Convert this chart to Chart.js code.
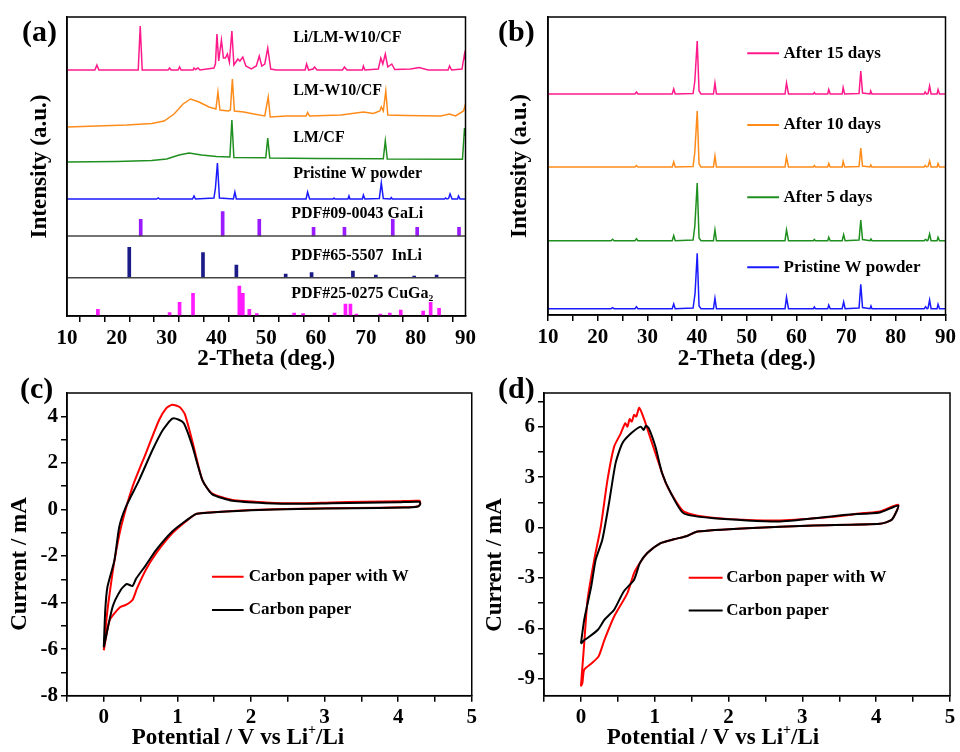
<!doctype html>
<html lang="en">
<head>
<meta charset="utf-8">
<title>XRD and CV</title>
<script src="https://cdn.jsdelivr.net/npm/chart.js@4.4.0/dist/chart.umd.min.js"></script>
<style>
    html, body { margin: 0; padding: 0; background: #fff; overflow: hidden; }
    canvas { position: absolute; }
</style>
</head>
<body>
<canvas id="chartA" width="480" height="376" style="left:0;top:0"></canvas>
<canvas id="chartB" width="480" height="376" style="left:480px;top:0"></canvas>
<canvas id="chartC" width="480" height="380" style="left:0;top:376px"></canvas>
<canvas id="chartD" width="480" height="380" style="left:480px;top:376px"></canvas>
<script>
// ---- tick lists ----
const xrdTicks = [10, 15, 20, 25, 30, 35, 40, 45, 50, 55, 60, 65, 70, 75, 80, 85, 90];
const cvTicksX = [-0.5, 0, 0.5, 1, 1.5, 2, 2.5, 3, 3.5, 4, 4.5, 5];
const cTicksY = [-8, -7, -6, -5, -4, -3, -2, -1, 0, 1, 2, 3, 4];
const dTicksY = [-9, -7.5, -6, -4.5, -3, -1.5, 0, 1.5, 3, 4.5, 6, 7.5];

// ---- (a) XRD patterns [2theta, intensity] ----
const liLmW10CF = [[10,246],[15.6,246],[16.0,251],[16.4,246],[24.3,246],[24.7,290],[25.1,246],[30.3,246],[30.6,248],[30.9,246],[32.3,246],[32.6,249],[32.9,246],[35.3,246],[35.5,248],[35.8,246.5],[36.3,248],[36.7,246],[39.5,248],[39.8,252],[40.1,282],[40.45,255],[41.0,276],[41.4,258],[41.8,258],[42.2,262],[42.6,254],[43.1,285],[43.5,251],[43.9,254],[44.3,257],[44.7,255],[45.3,259],[45.9,250],[47,247],[48.0,250],[48.6,260],[49.1,250],[49.7,252],[50.3,268],[50.9,247],[52,246],[57.8,246],[58.1,252],[58.5,246],[59.4,247],[59.7,249],[60.2,246],[65.3,246],[65.7,249],[66.2,246],[69.3,246],[69.5,250],[69.8,246],[72.5,247],[73.0,258],[73.4,252],[73.9,262],[74.4,249],[75.2,252],[75.8,246.5],[79,247],[80.7,248.5],[82.5,246],[86.5,246],[86.8,250],[87.2,246],[89.3,247],[89.8,262],[90,256]];
const lmW10CF = [[10,189],[16,190],[22,191],[27,192.5],[29.5,195],[31.5,202],[33.3,212],[34.8,217],[36.5,214],[38.5,209],[39.9,207],[40.3,224],[40.7,206],[42.4,205],[42.8,206],[43.2,237],[43.6,205],[45.5,204],[47.5,202],[49.7,200],[50.4,219],[50.8,199],[54,200],[58,200],[58.3,203.5],[58.7,200],[65,201],[69.5,204],[71.5,202.5],[72.8,205],[73.1,209],[73.5,205],[74.0,225],[74.4,201],[78,200.5],[85,200],[86.8,202],[88,200],[89.6,205],[90,212]];
const lmCF = [[10,154],[20,154.5],[27,155.5],[30,157],[32.5,161],[34.5,163],[37,161],[40,159.5],[42.7,159],[43.1,196],[43.5,158.5],[49.9,158.3],[50.3,178],[50.7,158],[60,157.5],[73.5,157.3],[73.9,175],[74.3,157],[89.4,156.7],[89.8,188],[90,180]];
const wPowderA = [[10,117],[28,117],[28.3,118],[28.6,117],[35.2,117],[35.5,120],[35.8,117],[39.5,118],[39.8,128],[40.2,153],[40.6,118],[43.4,117],[43.7,124],[44,117],[58,117],[58.3,124],[58.7,117],[63.4,117],[63.6,118],[63.8,117],[66.4,117],[66.6,120],[66.8,117],[69.3,117],[69.5,121],[69.8,117],[72.7,117.5],[73.1,133],[73.5,117.5],[74.9,117],[75.1,118.5],[75.3,117],[85.8,117],[86.0,118],[86.3,117],[86.6,117.5],[86.9,122],[87.3,117],[88.4,117],[88.6,120],[88.9,117],[90,117]];

// reference sticks: positions, tops and base line
const gaLiPos = [24.8, 41.25, 48.6, 59.5, 65.7, 75.4, 80.3, 88.7];
const gaLiTop = [96.7, 104.3, 96.7, 88.7, 88.7, 96.7, 88.7, 88.7];
const gaLiBase = 80;
const inLiPos = [22.5, 37.3, 44.0, 53.9, 59.1, 67.4, 72.0, 79.7, 84.2];
const inLiTop = [68.7, 63.3, 51, 42, 43.3, 45, 41, 40, 41];
const inLiBase = 38.3;
const cuGa2Pos = [16.2, 30.6, 32.6, 35.3, 44.6, 45.3, 46.6, 48.1, 55.6, 57.4, 63.7, 65.9, 66.9, 68.1, 72.9, 74.8, 77.0, 81.5, 83.0, 84.7];
const cuGa2Top = [6.7, 3.3, 13.7, 22.7, 30, 22.7, 6.7, 2.3, 3, 2.3, 3, 12, 12, 2, 2, 3, 6, 5, 13.7, 7.7];
const cuGa2Base = 0;

// ---- (b) XRD after storage ----
const after15 = [[10,221],[27.5,221],[27.8,223],[28.1,221],[35.0,221],[35.3,226],[35.6,221],[39.2,221.5],[39.55,234],[40.03,274],[40.4,224],[40.8,221],[43.3,221],[43.6,232],[43.9,221],[57.7,221],[58.0,232],[58.4,221],[63.4,221],[63.6,222.5],[63.8,221],[66.3,221],[66.5,225.5],[66.8,221],[69.2,221],[69.4,227.5],[69.7,221],[72.6,221.5],[72.95,244],[73.3,222],[74.8,221],[74.95,224],[75.2,221],[85.7,221],[85.9,223],[86.2,221],[86.5,221.5],[86.8,229],[87.1,221],[88.3,221],[88.5,225.5],[88.8,221],[90,221]];
const after10 = [[10,148],[27.5,148],[27.8,149.5],[28.1,148],[35.0,148],[35.3,153],[35.6,148],[39.2,148.5],[39.55,163],[40.03,204],[40.4,151],[40.8,148],[43.3,148],[43.6,159],[43.9,148],[57.7,148],[58.0,158],[58.4,148],[63.4,148],[63.6,149.5],[63.8,148],[66.3,148],[66.5,151.5],[66.8,148],[69.2,148],[69.4,153.5],[69.7,148],[72.6,148.5],[72.95,167],[73.3,149],[74.8,148],[74.95,150],[75.2,148],[85.7,148],[85.9,149.5],[86.2,148],[86.5,148.5],[86.8,154],[87.1,148],[88.3,148],[88.5,151.5],[88.8,148],[90,148]];
const after5 = [[10,74.3],[22.7,74.3],[23.0,75.7],[23.3,74.3],[27.5,74.3],[27.8,76.3],[28.1,74.3],[35.0,74.3],[35.3,79.3],[35.6,74.3],[39.2,75],[39.55,89],[40.03,132],[40.4,77],[40.8,74.3],[43.3,74.3],[43.6,85],[43.9,74.3],[57.7,74.3],[58.0,85],[58.4,74.3],[63.4,74.3],[63.6,75.5],[63.8,74.3],[66.3,74.3],[66.5,77.7],[66.8,74.3],[69.2,74.3],[69.5,80.3],[69.8,74.3],[72.6,75],[72.95,95],[73.3,75.5],[74.8,74.3],[75.0,76],[75.2,74.3],[85.7,74.3],[86.0,75.5],[86.3,74.3],[86.5,75],[86.8,81],[87.1,74.3],[88.3,74.3],[88.5,77.7],[88.8,74.3],[90,74.3]];
const pristineB = [[10,6.3],[22.7,6.3],[23.0,7.3],[23.3,6.3],[27.5,6.3],[27.8,8.3],[28.1,6.3],[35.0,6.3],[35.3,11],[35.6,6.3],[39.2,7],[39.6,21.7],[40.03,61.7],[40.4,9],[40.8,6.3],[43.3,6.3],[43.6,16.7],[43.9,6.3],[57.7,6.3],[58.0,17.7],[58.4,6.3],[63.4,6.3],[63.6,8],[63.8,6.3],[66.3,6.3],[66.5,10],[66.8,6.3],[69.2,6.3],[69.5,13],[69.8,6.3],[72.6,7],[72.95,30.7],[73.3,7.5],[74.8,6.3],[75.0,9],[75.2,6.3],[85.7,6.3],[86.0,8.3],[86.3,6.3],[86.5,7],[86.8,15],[87.1,6.3],[88.3,6.3],[88.5,10.7],[88.8,6.3],[90,6.3]];

// ---- (c) CV, [V, mA] ----
const cPaperW = [[0,-6.05],[0.04,-4.6],[0.08,-3.6],[0.145,-2.2],[0.235,-0.75],[0.39,0.97],[0.57,2.4],[0.75,3.83],[0.85,4.35],[0.93,4.5],[1.03,4.4],[1.1,4.1],[1.2,2.97],[1.34,1.26],[1.47,0.69],[1.75,0.4],[2.2,0.3],[2.64,0.26],[3.1,0.3],[3.55,0.33],[4.0,0.35],[4.29,0.37],[4.3,0.25],[4.27,0.14],[4.08,0.09],[3.4,0.06],[2.64,0.03],[2.0,-0.03],[1.75,-0.07],[1.38,-0.14],[1.25,-0.2],[1.11,-0.53],[0.93,-1.03],[0.71,-1.89],[0.57,-2.6],[0.45,-3.4],[0.39,-3.89],[0.3,-4.1],[0.22,-4.2],[0.08,-4.75],[0,-6.05]];
const cPaper = [[0,-5.92],[0.02,-4.32],[0.05,-3.32],[0.145,-2.18],[0.21,-0.75],[0.3,0.11],[0.48,1.26],[0.66,2.54],[0.8,3.4],[0.93,3.9],[1.02,3.85],[1.09,3.69],[1.2,2.76],[1.34,1.26],[1.47,0.66],[1.75,0.37],[2.2,0.27],[2.64,0.24],[3.1,0.27],[3.55,0.29],[4.0,0.31],[4.29,0.33],[4.3,0.22],[4.27,0.13],[4.08,0.08],[3.4,0.05],[2.64,0.02],[2.0,-0.04],[1.75,-0.08],[1.38,-0.15],[1.25,-0.2],[1.11,-0.5],[0.93,-0.95],[0.71,-1.75],[0.57,-2.4],[0.44,-2.97],[0.39,-3.29],[0.31,-3.2],[0.23,-3.46],[0.12,-4.18],[0,-5.92]];

// ---- (d) CV, [V, mA] ----
const dPaperW = [[0,-9.45],[0.02,-8.3],[0.045,-6.87],[0.09,-4.3],[0.18,-1.92],[0.27,0.06],[0.36,2.83],[0.45,4.81],[0.54,5.6],[0.6,6.2],[0.63,6.0],[0.66,6.45],[0.69,6.3],[0.72,6.7],[0.75,6.6],[0.79,7.12],[0.86,6.4],[0.95,5.2],[1.04,4.02],[1.15,2.64],[1.26,1.75],[1.39,0.96],[1.58,0.7],[2.03,0.5],[2.7,0.42],[3.38,0.62],[3.83,0.86],[4.05,0.96],[4.3,1.35],[4.21,0.46],[4.05,0.22],[3.15,0.12],[2.25,-0.04],[1.58,-0.24],[1.44,-0.5],[1.26,-0.7],[1.08,-0.93],[0.9,-1.52],[0.8,-2.1],[0.72,-2.71],[0.63,-3.9],[0.45,-5.29],[0.32,-6.67],[0.24,-7.66],[0.15,-8.06],[0.045,-8.45],[0.02,-9.25],[0,-9.45]];
const dPaper = [[0,-6.91],[0.045,-5.48],[0.14,-3.5],[0.2,-1.92],[0.29,-0.73],[0.38,1.44],[0.47,3.83],[0.56,5.0],[0.68,5.6],[0.81,6.0],[0.85,5.8],[0.88,6.05],[0.92,5.9],[1.01,4.8],[1.1,3.23],[1.22,2.04],[1.39,0.85],[1.8,0.55],[2.7,0.36],[3.6,0.76],[4.05,0.9],[4.3,1.3],[4.21,0.46],[4.05,0.22],[3.15,0.12],[2.25,-0.04],[1.58,-0.24],[1.44,-0.5],[1.26,-0.7],[1.08,-0.93],[0.9,-1.52],[0.8,-2.1],[0.72,-3.1],[0.58,-3.8],[0.45,-4.89],[0.32,-5.48],[0.23,-6.08],[0.09,-6.57],[0.05,-6.67],[0,-6.91]];

const serif = '"Liberation Serif", "Times New Roman", serif';
Chart.defaults.font.family = serif;
Chart.defaults.font.weight = 'bold';
Chart.defaults.color = '#000';
Chart.defaults.animation = false;
Chart.defaults.responsive = false;
Chart.defaults.elements.point.radius = 0;
Chart.defaults.plugins.legend.display = false;
Chart.defaults.plugins.tooltip.enabled = false;

let pts = arr => arr.map(p => ({ x: p[0], y: p[1] }));
let line = (arr, color, width) => ({ type: 'line', data: pts(arr), borderColor: color, borderWidth: width || 1.5, tension: 0, fill: false });
let cv = (arr, color) => ({ type: 'line', data: pts(arr), borderColor: color, borderWidth: 2, tension: 0.2, fill: false });
let sticks = (pos, top, base, color) => ({
    type: 'bar', grouped: false, barThickness: 3, backgroundColor: color, borderWidth: 0,
    data: pos.map((p, i) => ({ x: p, y: [base, top[i]] }))
});
let baseLine = (val, color) => line([[10, val], [90, val]], color, 1.5);

// text with a superscript piece, drawn centred on (cx, cy)
let drawParts = (ctx, parts, cx, cy, rot) => {
    ctx.save();
    ctx.translate(cx, cy);
    ctx.rotate(rot || 0);
    ctx.textAlign = 'left';
    ctx.textBaseline = 'middle';
    let fontOf = p => (p.sup ? 'bold 14px ' : 'bold 23px ') + serif;
    let w = 0;
    parts.forEach(p => { ctx.font = fontOf(p); w += ctx.measureText(p.t).width; });
    let cur = -w / 2;
    parts.forEach(p => {
        ctx.font = fontOf(p);
        ctx.fillText(p.t, cur, p.sup ? -8 : 0);
        cur += ctx.measureText(p.t).width;
    });
    ctx.restore();
};

// frame, panel tag, in-plot labels and legend samples
const decor = {
    id: 'decor',
    afterDatasetsDraw(chart, args, opts) {
        const { ctx, chartArea: a, scales: { x, y } } = chart;
        ctx.save();
        ctx.strokeStyle = '#000';
        ctx.lineWidth = 1.5;
        ctx.strokeRect(a.left, a.top, a.right - a.left, a.bottom - a.top);
        ctx.fillStyle = '#000';
        ctx.textBaseline = 'middle';
        ctx.textAlign = 'left';
        (opts.notes || []).forEach(n => {
            let py = y.getPixelForValue(n.y);
            if (n.from !== undefined) {
                ctx.strokeStyle = n.color;
                ctx.lineWidth = 2;
                ctx.beginPath();
                ctx.moveTo(x.getPixelForValue(n.from), py);
                ctx.lineTo(x.getPixelForValue(n.to), py);
                ctx.stroke();
            }
            ctx.font = opts.noteFont;
            ctx.fillText(n.text, x.getPixelForValue(n.x), py);
        });
        ctx.font = 'bold 30px ' + serif;
        ctx.fillText(opts.tag[0], opts.tag[1], opts.tag[2]);
        (opts.titles || []).forEach(t => drawParts(ctx, t.parts, t.x, t.y, t.rot));
        ctx.restore();
    }
};

let tickGrid = { drawOnChartArea: false, tickLength: 6, color: '#000', lineWidth: 1.5 };
let axisBorder = { color: '#000', width: 1.5 };

let xrdX = h => ({
    type: 'linear', min: 10, max: 90, offset: false,
    afterBuildTicks: s => { s.ticks = xrdTicks.map(v => ({ value: v })); },
    afterFit: s => { s.height = h; },
    grid: tickGrid, border: axisBorder,
    ticks: { autoSkip: false, maxRotation: 0, padding: 4, font: { size: 21, weight: 'bold' }, callback: v => v % 10 === 0 ? v : '' },
    title: { display: true, text: '2-Theta (deg.)', font: { size: 23, weight: 'bold' }, padding: { top: 0, bottom: 3 } }
});
let xrdY = (w, max) => ({
    type: 'linear', min: 0, max: max,
    afterFit: s => { s.width = w; },
    grid: { display: false }, border: axisBorder, ticks: { display: false },
    title: { display: true, text: 'Intensity (a.u.)', font: { size: 23, weight: 'bold' }, padding: { top: 26 } }
});
let cvX = () => ({
    type: 'linear', min: -0.5, max: 5, offset: false,
    afterBuildTicks: s => { s.ticks = cvTicksX.map(v => ({ value: v })); },
    afterFit: s => { s.height = 60.3; },
    grid: tickGrid, border: axisBorder,
    ticks: { autoSkip: false, maxRotation: 0, padding: 3, font: { size: 21, weight: 'bold' }, callback: v => Number.isInteger(v) ? v : '' }
});
let cvY = (w, min, max, list, step) => ({
    type: 'linear', min: min, max: max,
    afterBuildTicks: s => { s.ticks = list.map(v => ({ value: v })); },
    afterFit: s => { s.width = w; },
    grid: tickGrid, border: axisBorder,
    ticks: { autoSkip: false, padding: 3, font: { size: 21, weight: 'bold' }, callback: v => v % step === 0 ? v : '' }
});
let potential = [{ t: 'Potential / V vs Li' }, { t: '+', sup: true }, { t: '/Li' }];
let current = [{ t: 'Current / mA' }];

new Chart(document.getElementById('chartA'), {
    type: 'line',
    data: {
        datasets: [
            line(liLmW10CF, '#ff1a8c'),
            line(lmW10CF, '#ff8c1a'),
            line(lmCF, '#1f8f1f'),
            line(wPowderA, '#1a1aff'),
            baseLine(gaLiBase, '#444'),
            baseLine(inLiBase, '#444'),
            sticks(gaLiPos, gaLiTop, gaLiBase, '#9b1bff'),
            sticks(inLiPos, inLiTop, inLiBase, '#1b1b88'),
            sticks(cuGa2Pos, cuGa2Top, cuGa2Base, '#ff1aff')
        ]
    },
    options: {
        layout: { padding: { top: 17, right: 12, left: 0, bottom: 0 } },
        scales: { x: xrdX(60), y: xrdY(67, 299) },
        plugins: {
            decor: {
                tag: ['(a)', 22, 33],
                noteFont: 'bold 16px ' + serif,
                notes: [
                    { text: 'Li/LM-W10/CF', x: 55.4, y: 278 },
                    { text: 'LM-W10/CF', x: 55.4, y: 225 },
                    { text: 'LM/CF', x: 55.4, y: 178.5 },
                    { text: 'Pristine W powder', x: 55.4, y: 142 },
                    { text: 'PDF#09-0043 GaLi', x: 55.0, y: 102 },
                    { text: 'PDF#65-5507  InLi', x: 55.0, y: 60 },
                    { text: 'PDF#25-0275 CuGa\u2082', x: 55.0, y: 22 }
                ]
            }
        }
    },
    plugins: [decor]
});

new Chart(document.getElementById('chartB'), {
    type: 'line',
    data: {
        datasets: [
            line(after15, '#ff1a8c'),
            line(after10, '#ff8c1a'),
            line(after5, '#1f8f1f'),
            line(pristineB, '#1a1aff')
        ]
    },
    options: {
        layout: { padding: { top: 17, right: 13, left: 0, bottom: 0 } },
        scales: { x: xrdX(61), y: xrdY(68, 298) },
        plugins: {
            decor: {
                tag: ['(b)', 18, 33],
                noteFont: 'bold 17px ' + serif,
                notes: [
                    { text: 'After 15 days', x: 57.4, y: 261.7, from: 50.1, to: 56.5, color: '#ff1a8c' },
                    { text: 'After 10 days', x: 57.4, y: 190, from: 50.1, to: 56.5, color: '#ff8c1a' },
                    { text: 'After 5 days', x: 57.4, y: 117.7, from: 50.1, to: 56.5, color: '#1f8f1f' },
                    { text: 'Pristine W powder', x: 57.4, y: 47.7, from: 50.1, to: 56.5, color: '#1a1aff' }
                ]
            }
        }
    },
    plugins: [decor]
});

new Chart(document.getElementById('chartC'), {
    type: 'line',
    data: { datasets: [cv(cPaper, '#000'), cv(cPaperW, '#ff0000')] },
    options: {
        layout: { padding: { top: 17, right: 7, left: 0, bottom: 0 } },
        scales: { x: cvX(), y: cvY(67, -8, 5, cTicksY, 2) },
        plugins: {
            decor: {
                tag: ['(c)', 20, 14],
                noteFont: 'bold 17px ' + serif,
                notes: [
                    { text: 'Carbon paper with W', x: 1.97, y: -2.89, from: 1.47, to: 1.9, color: '#ff0000' },
                    { text: 'Carbon paper', x: 1.97, y: -4.32, from: 1.47, to: 1.9, color: '#000' }
                ],
                titles: [
                    { parts: potential, x: 238, y: 362 },
                    { parts: current, x: 20, y: 188, rot: -Math.PI / 2 }
                ]
            }
        }
    },
    plugins: [decor]
});

new Chart(document.getElementById('chartD'), {
    type: 'line',
    data: { datasets: [cv(dPaper, '#000'), cv(dPaperW, '#ff0000')] },
    options: {
        layout: { padding: { top: 17, right: 10, left: 0, bottom: 0 } },
        scales: { x: cvX(), y: cvY(64, -10, 8, dTicksY, 3) },
        plugins: {
            decor: {
                tag: ['(d)', 18, 14],
                noteFont: 'bold 17px ' + serif,
                notes: [
                    { text: 'Carbon paper with W', x: 1.97, y: -2.99, from: 1.46, to: 1.92, color: '#ff0000' },
                    { text: 'Carbon paper', x: 1.97, y: -4.93, from: 1.46, to: 1.92, color: '#000' }
                ],
                titles: [
                    { parts: potential, x: 233, y: 362 },
                    { parts: current, x: 15, y: 189, rot: -Math.PI / 2 }
                ]
            }
        }
    },
    plugins: [decor]
});
</script>
</body>
</html>
